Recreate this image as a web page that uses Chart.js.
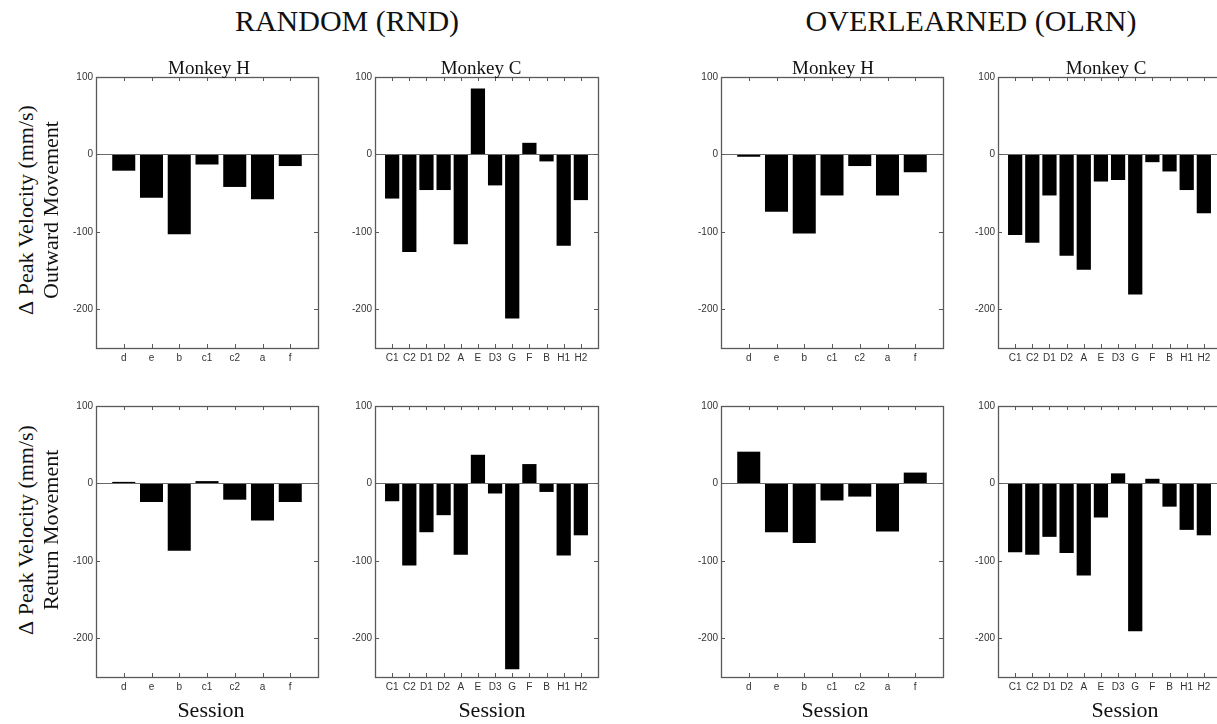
<!DOCTYPE html>
<html>
<head>
<meta charset="utf-8">
<script src="https://cdn.jsdelivr.net/npm/chart.js@4.4.1/dist/chart.umd.min.js"></script>
<style>
  html, body { margin:0; padding:0; background:#fff; }
  body { width:1217px; height:724px; position:relative; overflow:hidden; }
  .lbl { position:absolute; white-space:nowrap; font-family:"Liberation Serif","DejaVu Serif",serif; color:#111; transform:translate(-50%,-50%); line-height:1; }
  .rot { transform:translate(-50%,-50%) rotate(-90deg); }
  canvas { position:absolute; }
</style>
</head>
<body>
<script>
// ---------- DATA ----------
const sessionsH = ['d','e','b','c1','c2','a','f'];
const sessionsC = ['C1','C2','D1','D2','A','E','D3','G','F','B','H1','H2'];
const yTicks = [-200, -100, 0, 100];

const rndH_out  = [-21, -56, -103, -13, -42, -58, -15];
const rndC_out  = [-57, -126, -46, -46, -116, 85, -40, -212, 15, -9, -118, -59];
const rndH_ret  = [2, -24, -87, 3, -21, -48, -24];
const rndC_ret  = [-23, -106, -63, -41, -92, 37, -13, -240, 25, -11, -93, -67];
const olrnH_out = [-3, -74, -102, -53, -15, -53, -23];
const olrnC_out = [-104, -114, -53, -131, -149, -35, -33, -181, -10, -22, -46, -76];
const olrnH_ret = [41, -63, -77, -22, -17, -62, 14];
const olrnC_ret = [-89, -92, -69, -90, -119, -44, 13, -191, 6, -30, -60, -67];

// ---------- LAYOUT ----------
const rows = [{T:76, B:348}, {T:405, B:677}];
const cols = [{L:96, R:318}, {L:375, R:598}, {L:721, R:943}, {L:998, R:1221}];

const panels = [
  {r:0, c:0, cats:sessionsH, vals:rndH_out},
  {r:0, c:1, cats:sessionsC, vals:rndC_out},
  {r:0, c:2, cats:sessionsH, vals:olrnH_out},
  {r:0, c:3, cats:sessionsC, vals:olrnC_out},
  {r:1, c:0, cats:sessionsH, vals:rndH_ret},
  {r:1, c:1, cats:sessionsC, vals:rndC_ret},
  {r:1, c:2, cats:sessionsH, vals:olrnH_ret},
  {r:1, c:3, cats:sessionsC, vals:olrnC_ret},
];

const PADL = 40, PADT = 8, PADR = 8, PADB = 24;

const boxPlugin = {
  id: 'box',
  afterDraw(chart) {
    const ctx = chart.ctx, a = chart.chartArea;
    const xs = chart.scales.x, ys = chart.scales.y;
    const n = chart.data.datasets[0].data.length;
    ctx.save();
    // zero line
    const y0 = Math.round(ys.getPixelForValue(0)) + 0.5;
    ctx.strokeStyle = '#6a6a6a';
    ctx.lineWidth = 1;
    ctx.beginPath(); ctx.moveTo(a.left, y0); ctx.lineTo(a.right, y0); ctx.stroke();
    // box
    ctx.strokeStyle = '#5a5a5a';
    ctx.lineWidth = 1.3;
    ctx.strokeRect(Math.round(a.left)+0.5, Math.round(a.top)+0.5, Math.round(a.right-a.left), Math.round(a.bottom-a.top));
    // ticks
    ctx.lineWidth = 1;
    ctx.beginPath();
    yTicks.forEach(v => {
      const y = Math.round(ys.getPixelForValue(v)) + 0.5;
      ctx.moveTo(a.left, y); ctx.lineTo(a.left + 4, y);
      ctx.moveTo(a.right, y); ctx.lineTo(a.right - 4, y);
    });
    for (let i = 1; i <= n; i++) {
      const x = Math.round(xs.getPixelForValue(i)) + 0.5;
      ctx.moveTo(x, a.bottom); ctx.lineTo(x, a.bottom - 4);
      ctx.moveTo(x, a.top); ctx.lineTo(x, a.top + 4);
    }
    ctx.stroke();
    ctx.restore();
  }
};

panels.forEach(p => {
  const row = rows[p.r], col = cols[p.c];
  const w = (col.R - col.L) + PADL + PADR;
  const h = (row.B - row.T) + PADT + PADB;
  const cv = document.createElement('canvas');
  cv.width = w; cv.height = h;
  cv.style.width = w + 'px'; cv.style.height = h + 'px';
  cv.style.left = (col.L - PADL) + 'px';
  cv.style.top = (row.T - PADT) + 'px';
  document.body.appendChild(cv);
  const cats = p.cats;
  new Chart(cv, {
    type: 'bar',
    data: {
      datasets: [{
        data: p.vals.map((v, i) => ({x: i + 1, y: v})),
        backgroundColor: '#000',
        borderColor: '#222',
        borderWidth: 0,
        barPercentage: 0.83,
        categoryPercentage: 1
      }]
    },
    options: {
      responsive: false,
      animation: false,
      devicePixelRatio: 1,
      layout: { padding: {left: 0, top: PADT, right: PADR, bottom: 0} },
      plugins: { legend: {display: false}, tooltip: {enabled: false}, title: {display: false} },
      scales: {
        x: {
          type: 'linear', min: 0, max: cats.length + 1, offset: false,
          grid: {display: false, drawTicks: false, tickLength: 0}, border: {display: false},
          afterBuildTicks: s => { s.ticks = cats.map((c, i) => ({value: i + 1})); },
          afterFit: s => { s.height = PADB; },
          ticks: {
            autoSkip: false, maxRotation: 0, minRotation: 0, padding: 4,
            color: '#333', font: {family: '"Liberation Sans", Arial, sans-serif', size: 10},
            callback: v => cats[Math.round(v) - 1] || ''
          }
        },
        y: {
          type: 'linear', min: -250, max: 100,
          grid: {display: false, drawTicks: false, tickLength: 0}, border: {display: false},
          afterBuildTicks: s => { s.ticks = yTicks.map(v => ({value: v})); },
          afterFit: s => { s.width = PADL; },
          ticks: {
            padding: 3, color: '#333',
            font: {family: '"Liberation Sans", Arial, sans-serif', size: 10},
            callback: v => String(v)
          }
        }
      }
    },
    plugins: [boxPlugin]
  });
});

// ---------- TEXT ----------
function label(text, cx, cy, size, rot) {
  const d = document.createElement('div');
  d.className = 'lbl' + (rot ? ' rot' : '');
  d.style.left = cx + 'px';
  d.style.top = cy + 'px';
  d.style.fontSize = size + 'px';
  if (text.startsWith('\u0394')) {
    const s1 = document.createElement('span');
    s1.textContent = '\u0394';
    s1.style.fontFamily = '"Liberation Serif","DejaVu Serif",serif';
    const s2 = document.createElement('span');
    s2.textContent = text.slice(1);
    s2.style.fontFamily = '"Liberation Serif",serif';
    d.appendChild(s1); d.appendChild(s2);
  } else {
    d.textContent = text;
  }
  document.body.appendChild(d);
}
label('RANDOM (RND)', 347, 21, 30);
label('OVERLEARNED (OLRN)', 971, 21, 30);
label('Monkey H', 209, 67, 19);
label('Monkey C', 481, 67, 19);
label('Monkey H', 833, 67, 19);
label('Monkey C', 1106, 67, 19);
label('\u0394 Peak Velocity (mm/s)', 26, 210, 22, true);
label('Outward Movement', 51, 210, 22, true);
label('\u0394 Peak Velocity (mm/s)', 26, 530, 22, true);
label('Return Movement', 51, 530, 22, true);
label('Session', 211, 710, 22);
label('Session', 492, 710, 22);
label('Session', 835, 710, 22);
label('Session', 1125, 710, 22);
</script>
</body>
</html>
